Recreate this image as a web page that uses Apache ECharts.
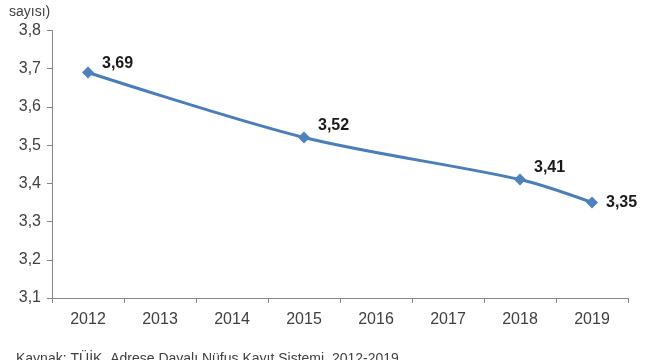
<!DOCTYPE html>
<html><head><meta charset="utf-8">
<script src="https://cdn.jsdelivr.net/npm/echarts@6/dist/echarts.min.js"></script>
<style>html,body{margin:0;padding:0;background:#fff}#c{width:650px;height:360px}</style>
</head><body><div id="c"></div>
<script>
const years = ['2012','2013','2014','2015','2016','2017','2018','2019'];
const pointIdx = [0, 3, 6, 7];
const values = [3.69, 3.52, 3.41, 3.35];
const yTicks = [3.1, 3.2, 3.3, 3.4, 3.5, 3.6, 3.7, 3.8];
const topNote = 'sayısı)';
const source = 'Kaynak: TÜİK, Adrese Dayalı Nüfus Kayıt Sistemi, 2012-2019';

const labelOffsets = [[2,-9],[2,-12],[2,-12],[2,0]];
const data = values.map((v,i)=>({value:[pointIdx[i], v], label:{offset:labelOffsets[i]}}));

const chart = echarts.init(document.getElementById('c'));
chart.setOption({
  animation:false,
  grid:{left:52,right:22,top:30.5,bottom:62},
  graphic:[
    {type:'text',left:9,top:5,style:{text:topNote,font:'14px "Liberation Sans", Arial',fill:'#404040'}},
    {type:'text',left:16,top:352,style:{text:source,font:'14px "Liberation Sans", Arial',fill:'#404040'}}
  ],
  xAxis:{type:'category',data:years,boundaryGap:true,
    axisLine:{lineStyle:{color:'#868686',width:1}},
    axisTick:{show:true,length:5,lineStyle:{color:'#868686'}},
    axisLabel:{color:'#404040',fontSize:16,fontFamily:'"Liberation Sans Narrow","Liberation Sans",Arial',margin:14}},
  yAxis:{type:'value',min:3.1,max:3.8,interval:0.1,
    splitLine:{show:false},
    axisLine:{show:true,lineStyle:{color:'#868686'}},
    axisTick:{show:true,length:5,lineStyle:{color:'#868686'}},
    axisLabel:{color:'#404040',fontSize:16,fontFamily:'"Liberation Sans",Arial',margin:11,
      formatter:v=>v.toFixed(1).replace('.',',')}},
  series:[{type:'line',data:data,smooth:0.3,
    symbol:'diamond',symbolSize:12,
    lineStyle:{color:'#4A7EBB',width:3},
    itemStyle:{color:'#4F81BD'},
    label:{show:true,position:'right',distance:6,color:'#1a1a1a',fontWeight:'bold',fontSize:16,
      fontFamily:'"Liberation Sans",Arial',
      formatter:p=>p.value[1].toFixed(2).replace('.',',')}}]
});
</script></body></html>
